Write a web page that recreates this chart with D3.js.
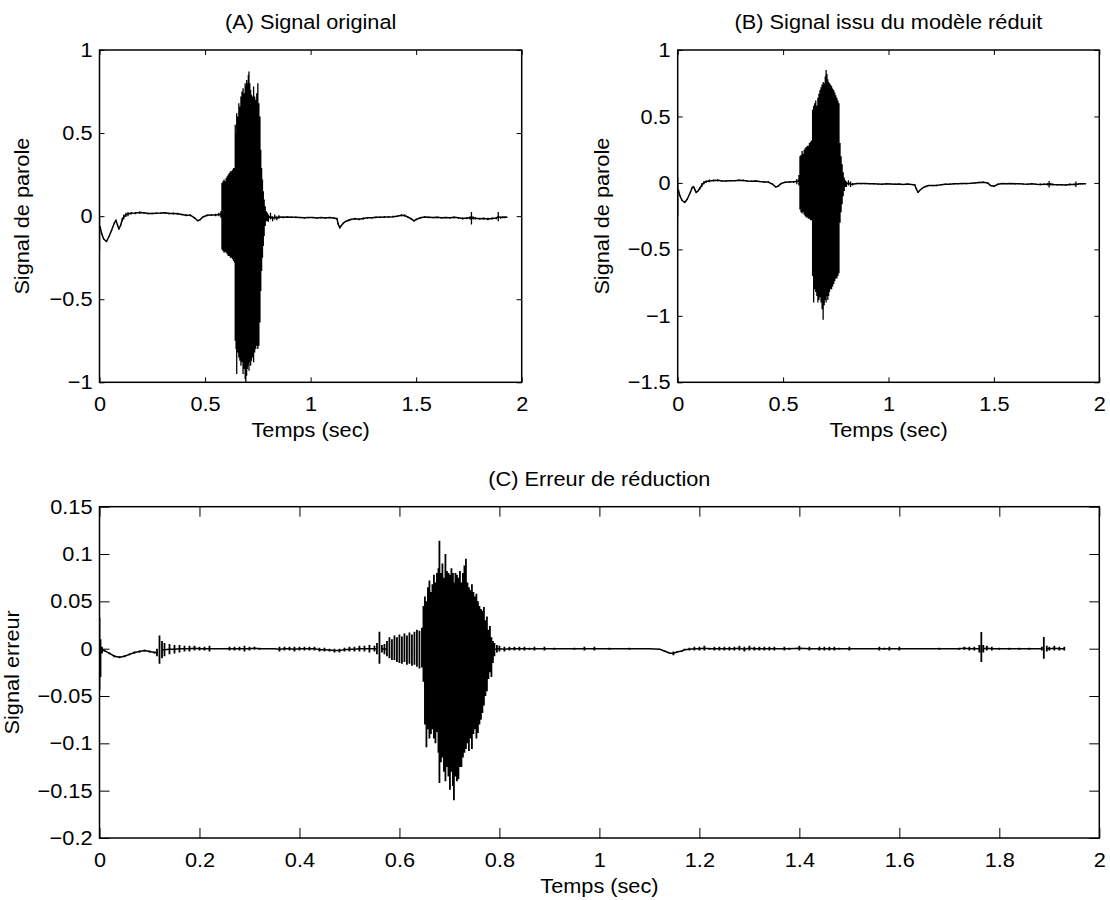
<!DOCTYPE html>
<html><head><meta charset="utf-8">
<script src="https://cdn.jsdelivr.net/npm/d3@7"></script>
<style>
body{margin:0;background:#fff}
svg text{font-family:'Liberation Sans',Arial,Helvetica,sans-serif;fill:#000}
</style>
</head><body>
<svg id="fig" width="1110" height="900"></svg>
<script>
// ---------- tick values ----------
const xTicksTop = [0, 0.5, 1, 1.5, 2];
const yTicksA = [-1, -0.5, 0, 0.5, 1];
const yTicksB = [-1.5, -1, -0.5, 0, 0.5, 1];
const xTicksC = [0, 0.2, 0.4, 0.6, 0.8, 1, 1.2, 1.4, 1.6, 1.8, 2];
const yTicksC = [-0.2, -0.15, -0.1, -0.05, 0, 0.05, 0.1, 0.15];

// ---------- signals: [time (s), upper envelope, lower envelope] ----------
const signalA = [
[0.000,0.00,-0.21],[0.004,-0.06,-0.08],[0.010,-0.10,-0.11],[0.020,-0.135,-0.14],[0.033,-0.15,-0.155],
[0.045,-0.12,-0.125],[0.058,-0.08,-0.085],[0.070,-0.04,-0.045],[0.078,-0.02,-0.03],[0.085,-0.05,-0.055],
[0.092,-0.075,-0.08],[0.100,-0.05,-0.06],[0.108,-0.01,-0.03],[0.115,0.01,-0.02],[0.125,0.02,-0.005],
[0.135,0.025,0.0],[0.150,0.025,0.01],[0.17,0.025,0.012],[0.19,0.028,0.015],[0.21,0.025,0.015],
[0.23,0.02,0.012],[0.25,0.02,0.012],[0.27,0.022,0.014],[0.29,0.022,0.015],[0.31,0.025,0.015],
[0.33,0.02,0.012],[0.35,0.022,0.01],[0.37,0.02,0.008],[0.39,0.015,0.005],[0.41,0.012,0.0],
[0.43,0.012,0.0],[0.45,-0.005,-0.015],[0.465,-0.025,-0.03],[0.475,-0.02,-0.025],[0.49,0.0,-0.01],
[0.51,0.01,0.0],[0.53,0.012,0.002],[0.55,0.015,0.0],[0.565,0.02,0.0],[0.575,0.03,-0.01],
[0.580,0.20,-0.20],[0.585,0.21,-0.21],[0.590,0.22,-0.22],[0.595,0.21,-0.215],[0.600,0.23,-0.22],
[0.605,0.24,-0.23],[0.610,0.25,-0.24],[0.615,0.26,-0.24],[0.620,0.27,-0.25],[0.625,0.27,-0.25],
[0.630,0.28,-0.26],[0.635,0.29,-0.27],[0.640,0.29,-0.28],[0.643,0.55,-0.75],[0.647,0.50,-0.80],
[0.650,0.62,-0.95],[0.655,0.60,-0.82],[0.660,0.68,-0.85],[0.665,0.66,-0.87],[0.670,0.72,-0.90],
[0.675,0.75,-0.88],[0.680,0.77,-0.95],[0.685,0.74,-0.92],[0.690,0.80,-0.98],[0.693,0.78,-1.0],
[0.697,0.82,-0.96],[0.700,0.80,-0.92],[0.705,0.85,-0.90],[0.708,0.87,-0.93],[0.712,0.80,-0.88],
[0.716,0.76,-0.90],[0.720,0.73,-0.87],[0.725,0.72,-0.85],[0.730,0.78,-0.88],[0.735,0.72,-0.82],
[0.740,0.70,-0.80],[0.745,0.74,-0.78],[0.750,0.80,-0.80],[0.755,0.68,-0.78],[0.760,0.60,-0.64],
[0.764,0.40,-0.45],[0.768,0.29,-0.33],[0.772,0.22,-0.25],[0.776,0.15,-0.18],[0.780,0.10,-0.12],
[0.785,0.06,-0.06],[0.790,0.03,-0.03],[0.795,0.02,-0.03],[0.800,0.01,-0.035],[0.81,0.02,-0.02],
[0.82,0.0,-0.03],[0.83,0.01,-0.02],[0.84,0.0,-0.025],[0.85,0.005,-0.015],[0.87,0.0,-0.012],
[0.89,0.0,-0.01],[0.91,-0.002,-0.01],[0.93,-0.002,-0.012],[0.95,-0.005,-0.012],[0.97,-0.005,-0.015],
[0.99,-0.005,-0.012],[1.01,-0.005,-0.012],[1.03,-0.008,-0.015],[1.05,-0.005,-0.012],[1.07,-0.008,-0.015],
[1.09,-0.005,-0.012],[1.11,-0.008,-0.015],[1.125,-0.01,-0.02],[1.13,-0.04,-0.05],[1.138,-0.065,-0.075],
[1.145,-0.055,-0.06],[1.155,-0.04,-0.045],[1.165,-0.03,-0.035],[1.18,-0.02,-0.03],[1.19,-0.015,-0.025],
[1.21,-0.01,-0.02],[1.23,-0.012,-0.025],[1.25,-0.008,-0.02],[1.27,-0.005,-0.015],[1.29,-0.005,-0.015],
[1.31,-0.002,-0.012],[1.33,-0.002,-0.01],[1.35,0.0,-0.01],[1.37,0.0,-0.01],[1.39,0.002,-0.008],
[1.41,0.005,-0.005],[1.43,0.012,0.0],[1.445,0.01,-0.002],[1.46,0.0,-0.01],[1.475,-0.01,-0.02],
[1.49,-0.025,-0.032],[1.50,-0.015,-0.025],[1.52,-0.005,-0.015],[1.54,0.0,-0.01],[1.56,-0.002,-0.012],
[1.58,-0.005,-0.012],[1.60,-0.002,-0.012],[1.62,-0.005,-0.015],[1.64,-0.005,-0.012],[1.66,-0.005,-0.015],
[1.68,-0.002,-0.012],[1.70,-0.005,-0.015],[1.72,-0.008,-0.02],[1.74,-0.005,-0.018],[1.755,0.0,-0.02],
[1.762,0.025,-0.05],[1.77,0.0,-0.02],[1.78,-0.005,-0.02],[1.80,-0.01,-0.02],[1.82,-0.008,-0.02],
[1.84,-0.01,-0.025],[1.86,-0.008,-0.02],[1.88,-0.005,-0.018],[1.889,0.025,-0.03],[1.90,-0.002,-0.015],
[1.91,0.0,-0.012],[1.92,0.0,-0.012],[1.93,-0.002,-0.01]
];

const signalB = [
[0.000,0.04,-0.25],[0.004,-0.05,-0.07],[0.010,-0.09,-0.10],[0.020,-0.125,-0.135],[0.033,-0.145,-0.15],
[0.045,-0.12,-0.125],[0.058,-0.075,-0.08],[0.068,-0.035,-0.04],[0.075,-0.025,-0.03],[0.082,-0.05,-0.055],
[0.088,-0.07,-0.075],[0.095,-0.06,-0.065],[0.105,-0.03,-0.05],[0.115,0.0,-0.03],[0.125,0.015,-0.01],
[0.135,0.02,0.0],[0.15,0.025,0.005],[0.17,0.025,0.01],[0.19,0.028,0.012],[0.21,0.02,0.01],
[0.23,0.02,0.01],[0.25,0.022,0.012],[0.27,0.02,0.012],[0.29,0.025,0.015],[0.31,0.025,0.012],
[0.33,0.02,0.01],[0.35,0.018,0.008],[0.37,0.02,0.008],[0.39,0.015,0.005],[0.41,0.012,0.002],
[0.43,0.012,0.0],[0.45,-0.005,-0.015],[0.465,-0.025,-0.035],[0.475,-0.022,-0.03],[0.49,0.0,-0.01],
[0.51,0.01,0.0],[0.53,0.012,0.002],[0.55,0.015,0.002],[0.565,0.03,-0.01],[0.575,0.06,-0.02],
[0.580,0.20,-0.20],[0.585,0.21,-0.22],[0.590,0.24,-0.23],[0.595,0.22,-0.22],[0.600,0.25,-0.24],
[0.605,0.26,-0.25],[0.610,0.27,-0.26],[0.615,0.28,-0.26],[0.620,0.28,-0.27],[0.625,0.30,-0.27],
[0.630,0.31,-0.28],[0.635,0.32,-0.28],[0.640,0.55,-0.70],[0.645,0.58,-0.90],[0.650,0.60,-0.80],
[0.655,0.62,-0.82],[0.660,0.58,-0.85],[0.665,0.64,-0.90],[0.670,0.67,-0.88],[0.675,0.70,-0.86],
[0.680,0.72,-0.90],[0.685,0.74,-0.95],[0.690,0.76,-1.03],[0.695,0.75,-0.92],[0.700,0.80,-0.88],
[0.704,0.85,-0.90],[0.708,0.82,-0.85],[0.712,0.78,-0.88],[0.716,0.76,-0.85],[0.720,0.75,-0.82],
[0.725,0.74,-0.80],[0.730,0.73,-0.80],[0.735,0.71,-0.78],[0.740,0.70,-0.76],[0.745,0.68,-0.74],
[0.750,0.66,-0.72],[0.755,0.64,-0.72],[0.760,0.62,-0.70],[0.765,0.60,-0.68],[0.770,0.30,-0.30],
[0.775,0.20,-0.22],[0.780,0.14,-0.16],[0.785,0.08,-0.10],[0.790,0.04,-0.06],[0.795,0.02,-0.03],
[0.80,0.01,-0.03],[0.81,0.02,-0.02],[0.82,0.01,-0.03],[0.83,0.0,-0.02],[0.85,0.0,-0.01],
[0.87,0.0,-0.01],[0.89,0.0,-0.01],[0.91,-0.002,-0.01],[0.93,-0.002,-0.012],[0.95,-0.005,-0.012],
[0.97,-0.005,-0.015],[0.99,-0.002,-0.012],[1.01,-0.005,-0.012],[1.03,-0.005,-0.015],[1.05,-0.005,-0.012],
[1.07,-0.008,-0.015],[1.09,-0.005,-0.012],[1.11,-0.008,-0.015],[1.125,-0.01,-0.02],[1.132,-0.04,-0.05],
[1.14,-0.065,-0.075],[1.148,-0.055,-0.06],[1.158,-0.04,-0.045],[1.168,-0.03,-0.035],[1.18,-0.02,-0.03],
[1.19,-0.015,-0.025],[1.21,-0.015,-0.025],[1.23,-0.012,-0.025],[1.25,-0.008,-0.02],[1.27,-0.005,-0.015],
[1.29,-0.005,-0.015],[1.31,-0.002,-0.012],[1.33,-0.002,-0.01],[1.35,0.0,-0.01],[1.37,0.0,-0.01],
[1.39,0.002,-0.008],[1.41,0.005,-0.005],[1.43,0.008,-0.002],[1.45,0.01,0.0],[1.47,0.005,-0.005],
[1.485,-0.015,-0.025],[1.50,-0.02,-0.03],[1.52,-0.005,-0.015],[1.54,0.0,-0.01],[1.56,-0.002,-0.01],
[1.58,0.0,-0.01],[1.60,-0.002,-0.012],[1.62,-0.002,-0.01],[1.64,-0.005,-0.012],[1.66,-0.005,-0.015],
[1.68,-0.002,-0.012],[1.70,-0.005,-0.015],[1.72,-0.005,-0.018],[1.74,-0.005,-0.015],[1.755,0.0,-0.02],
[1.762,0.015,-0.035],[1.77,0.0,-0.02],[1.78,-0.005,-0.02],[1.80,-0.008,-0.02],[1.82,-0.008,-0.02],
[1.84,-0.01,-0.022],[1.86,-0.005,-0.02],[1.88,-0.005,-0.018],[1.889,0.01,-0.03],[1.90,-0.002,-0.015],
[1.91,0.0,-0.012],[1.92,-0.002,-0.012],[1.935,-0.002,-0.01]
];

const signalC = [
[0.000,0.033,-0.044],[0.002,0.01,-0.03],[0.005,0.002,-0.005],[0.010,-0.001,-0.003],[0.02,-0.004,-0.006],
[0.03,-0.007,-0.009],[0.04,-0.008,-0.01],[0.05,-0.007,-0.009],[0.06,-0.005,-0.007],[0.07,-0.003,-0.005],
[0.08,-0.002,-0.004],[0.09,-0.001,-0.003],[0.10,-0.002,-0.004],[0.11,-0.003,-0.005],[0.115,0.0,-0.008],
[0.12,0.014,-0.016],[0.125,0.008,-0.01],[0.13,0.006,-0.008],[0.14,0.005,-0.006],[0.15,0.004,-0.005],
[0.16,0.004,-0.004],[0.17,0.003,-0.003],[0.18,0.003,-0.003],[0.19,0.003,-0.002],[0.20,0.002,-0.002],
[0.21,0.002,-0.002],[0.22,0.003,-0.003],[0.23,0.0,0.0],[0.24,0.0,0.0],[0.26,0.002,-0.002],
[0.27,0.002,-0.002],[0.28,0.002,-0.002],[0.29,0.003,-0.003],[0.30,0.002,-0.002],[0.31,0.002,-0.001],
[0.32,0.001,-0.001],[0.33,0.0,0.0],[0.35,0.0,0.0],[0.36,0.002,-0.003],[0.37,0.002,-0.002],
[0.38,0.002,-0.002],[0.39,0.002,-0.003],[0.40,0.002,-0.002],[0.41,0.002,-0.002],[0.42,0.002,-0.002],
[0.43,0.002,-0.002],[0.44,0.001,-0.003],[0.45,0.001,-0.003],[0.46,0.0,-0.003],[0.47,0.0,-0.004],
[0.48,0.0,-0.004],[0.49,0.001,-0.003],[0.50,0.002,-0.003],[0.51,0.002,-0.003],[0.52,0.003,-0.003],
[0.53,0.003,-0.003],[0.54,0.004,-0.004],[0.55,0.003,-0.003],[0.555,0.006,-0.006],[0.56,0.018,-0.016],
[0.565,0.004,-0.004],[0.57,0.005,-0.006],[0.575,0.008,-0.008],[0.58,0.012,-0.010],[0.585,0.010,-0.012],
[0.59,0.014,-0.012],[0.595,0.012,-0.014],[0.60,0.015,-0.015],[0.605,0.013,-0.016],[0.61,0.016,-0.014],
[0.615,0.014,-0.017],[0.62,0.017,-0.016],[0.625,0.015,-0.018],[0.63,0.018,-0.017],[0.635,0.020,-0.019],
[0.64,0.019,-0.021],[0.645,0.022,-0.020],[0.648,0.045,-0.035],[0.651,0.055,-0.08],[0.654,0.050,-0.104],
[0.657,0.065,-0.085],[0.660,0.072,-0.095],[0.663,0.060,-0.090],[0.666,0.068,-0.085],[0.669,0.078,-0.095],
[0.672,0.070,-0.100],[0.675,0.080,-0.088],[0.678,0.085,-0.110],[0.680,0.114,-0.142],[0.683,0.080,-0.120],
[0.686,0.090,-0.115],[0.689,0.075,-0.130],[0.692,0.100,-0.140],[0.695,0.082,-0.125],[0.698,0.080,-0.135],
[0.701,0.078,-0.149],[0.704,0.085,-0.130],[0.707,0.080,-0.145],[0.709,0.070,-0.160],[0.712,0.080,-0.135],
[0.715,0.078,-0.140],[0.718,0.075,-0.138],[0.721,0.082,-0.125],[0.724,0.070,-0.125],[0.727,0.080,-0.115],
[0.730,0.088,-0.110],[0.733,0.095,-0.106],[0.736,0.070,-0.100],[0.739,0.065,-0.108],[0.742,0.062,-0.095],
[0.745,0.068,-0.106],[0.748,0.060,-0.090],[0.751,0.055,-0.085],[0.754,0.058,-0.095],[0.757,0.050,-0.089],
[0.760,0.045,-0.080],[0.763,0.042,-0.075],[0.766,0.040,-0.068],[0.769,0.044,-0.060],[0.772,0.030,-0.050],
[0.775,0.034,-0.045],[0.778,0.020,-0.032],[0.781,0.024,-0.025],[0.784,0.012,-0.030],[0.787,0.008,-0.015],
[0.790,0.006,-0.008],[0.795,0.004,-0.004],[0.80,0.003,-0.003],[0.81,0.002,-0.003],[0.82,0.002,-0.002],
[0.83,0.002,-0.002],[0.84,0.002,-0.002],[0.85,0.002,-0.002],[0.86,0.001,-0.001],[0.87,0.002,-0.002],
[0.88,0.0,0.0],[0.89,0.002,-0.002],[0.90,0.0,0.0],[0.91,0.001,-0.001],[0.93,0.0,0.0],
[0.95,0.001,-0.001],[0.97,0.002,-0.002],[0.98,0.0,0.0],[0.99,0.002,-0.002],[1.00,0.0,0.0],
[1.02,0.001,-0.001],[1.04,0.0,0.0],[1.06,0.001,-0.001],[1.08,0.0,0.0],[1.10,0.0,0.0],
[1.12,0.0,-0.001],[1.13,-0.002,-0.003],[1.14,-0.004,-0.005],[1.148,-0.003,-0.007],[1.155,-0.003,-0.004],
[1.165,-0.002,-0.003],[1.17,0.0,-0.002],[1.18,0.001,-0.002],[1.19,0.002,-0.002],[1.20,0.002,-0.002],
[1.21,0.003,-0.002],[1.22,0.001,-0.001],[1.23,0.002,-0.002],[1.24,0.002,-0.002],[1.25,0.002,-0.002],
[1.26,0.002,-0.002],[1.27,0.002,-0.002],[1.28,0.003,-0.002],[1.29,0.002,-0.003],[1.30,0.003,-0.002],
[1.31,0.002,-0.002],[1.32,0.002,-0.002],[1.33,0.002,-0.002],[1.34,0.002,-0.002],[1.35,0.002,-0.002],
[1.36,0.0,0.0],[1.37,0.002,-0.002],[1.38,0.001,-0.001],[1.40,0.003,-0.002],[1.42,0.002,-0.002],
[1.43,0.0,0.0],[1.44,0.002,-0.002],[1.45,0.002,-0.002],[1.46,0.002,-0.002],[1.47,0.002,-0.002],
[1.48,0.001,-0.001],[1.50,0.002,-0.002],[1.52,0.0,0.0],[1.54,0.0,0.0],[1.56,0.002,-0.002],
[1.57,0.001,-0.001],[1.58,0.002,-0.002],[1.60,0.002,-0.002],[1.62,0.0,0.0],[1.64,0.0,0.0],
[1.66,0.0,0.0],[1.68,0.001,-0.001],[1.70,0.0,0.0],[1.72,0.001,-0.001],[1.73,0.002,-0.001],
[1.74,0.002,-0.002],[1.75,0.002,-0.002],[1.76,0.004,-0.004],[1.764,0.0176,-0.014],[1.768,0.004,-0.004],
[1.775,0.003,-0.002],[1.785,0.002,-0.002],[1.80,0.001,-0.001],[1.81,0.0,0.0],[1.82,0.001,-0.001],
[1.84,0.001,-0.001],[1.85,0.0,0.0],[1.86,0.001,-0.001],[1.87,0.0,0.0],[1.885,0.002,-0.002],
[1.889,0.0123,-0.0106],[1.895,0.003,-0.003],[1.90,0.002,-0.002],[1.91,0.003,-0.002],[1.92,0.002,-0.002],
[1.93,0.002,-0.002]
];

// ---------- drawing ----------
const svg = d3.select("#fig");
const FONT = 20.5;
const SX = 1.06; // horizontal stretch of the lettering
const fmt = d => (d < 0 ? "\u2212" : "") + Math.abs(d);

function panel(cfg) {
  const x = d3.scaleLinear().domain(cfg.xDomain).range([cfg.left, cfg.right]);
  const y = d3.scaleLinear().domain(cfg.yDomain).range([cfg.bottom, cfg.top]);
  const g = svg.append("g");
  const clipId = "clip" + cfg.id;
  svg.append("clipPath").attr("id", clipId).append("rect")
    .attr("x", cfg.left).attr("y", cfg.top)
    .attr("width", cfg.right - cfg.left).attr("height", cfg.bottom - cfg.top);

  const plot = g.append("g").attr("clip-path", `url(#${clipId})`);
  // oscillation extent at each sample: vertical strokes from lower to upper envelope
  const bars = cfg.data.map(d => `M${x(d[0])},${y(d[1])}V${y(d[2])}`).join("");
  plot.append("path").attr("d", bars).attr("fill", "none")
    .attr("stroke", "#000").attr("stroke-width", cfg.barWidth);
  // slow component (mid line), skipped inside the dense voiced burst
  const span = cfg.yDomain[1] - cfg.yDomain[0];
  const mid = d3.line()
    .defined(d => (d[1] - d[2]) < 0.06 * span)
    .x(d => x(d[0])).y(d => y((d[1] + d[2]) / 2));
  plot.append("path").attr("d", mid(cfg.data)).attr("fill", "none")
    .attr("stroke", "#000").attr("stroke-width", 1.5).attr("stroke-linejoin", "round");

  const style = sel => {
    sel.select(".domain").remove();
    sel.attr("font-size", FONT).attr("font-family", null);
    sel.selectAll(".tick line").attr("stroke", "#000").attr("stroke-width", 1);
    sel.selectAll(".tick text").attr("transform", `scale(${SX},1)`);
  };
  g.append("g").attr("transform", `translate(0,${cfg.bottom})`)
    .call(d3.axisBottom(x).tickValues(cfg.xTicks).tickFormat(fmt).tickSizeInner(-cfg.tick).tickSizeOuter(0).tickPadding(14))
    .call(style);
  g.append("g").attr("transform", `translate(0,${cfg.top})`)
    .call(d3.axisTop(x).tickValues(cfg.xTicks).tickFormat("").tickSizeInner(-cfg.tick).tickSizeOuter(0))
    .call(style);
  g.append("g").attr("transform", `translate(${cfg.left},0)`)
    .call(d3.axisLeft(y).tickValues(cfg.yTicks).tickFormat(fmt).tickSizeInner(-cfg.tick).tickSizeOuter(0).tickPadding(6.6))
    .call(style);
  g.append("g").attr("transform", `translate(${cfg.right},0)`)
    .call(d3.axisRight(y).tickValues(cfg.yTicks).tickFormat("").tickSizeInner(-cfg.tick).tickSizeOuter(0))
    .call(style);

  g.append("rect").attr("x", cfg.left).attr("y", cfg.top)
    .attr("width", cfg.right - cfg.left).attr("height", cfg.bottom - cfg.top)
    .attr("fill", "none").attr("stroke", "#000").attr("stroke-width", 1.5);

  const cx = (cfg.left + cfg.right) / 2;
  const cy = (cfg.top + cfg.bottom) / 2;
  g.append("text").attr("transform", `translate(${cx},${cfg.top - 21}) scale(${SX},1)`)
    .attr("text-anchor", "middle").attr("font-size", FONT).text(cfg.title);
  g.append("text").attr("transform", `translate(${cx},${cfg.bottom + 55}) scale(${SX},1)`)
    .attr("text-anchor", "middle").attr("font-size", FONT).text("Temps (sec)");
  g.append("text").attr("transform", `translate(${cfg.left - cfg.ylabelOffset},${cy}) rotate(-90) scale(${SX},1)`)
    .attr("text-anchor", "middle").attr("font-size", FONT).text(cfg.ylabel);
}

panel({id: "A", left: 99.5, right: 521.7, top: 50, bottom: 382.3, tick: 5, barWidth: 1.3,
  xDomain: [0, 2], yDomain: [-1, 1], xTicks: xTicksTop, yTicks: yTicksA,
  data: signalA, title: "(A) Signal original", ylabel: "Signal de parole", ylabelOffset: 70.5});
panel({id: "B", left: 677.7, right: 1099.3, top: 50, bottom: 382.3, tick: 5, barWidth: 1.3,
  xDomain: [0, 2], yDomain: [-1.5, 1], xTicks: xTicksTop, yTicks: yTicksB,
  data: signalB, title: "(B) Signal issu du modèle réduit", ylabel: "Signal de parole", ylabelOffset: 69});
panel({id: "C", left: 99.5, right: 1099.3, top: 506.7, bottom: 838, tick: 10, barWidth: 1.8,
  xDomain: [0, 2], yDomain: [-0.2, 0.15], xTicks: xTicksC, yTicks: yTicksC,
  data: signalC, title: "(C) Erreur de réduction", ylabel: "Signal erreur", ylabelOffset: 81});
</script>
</body></html>
